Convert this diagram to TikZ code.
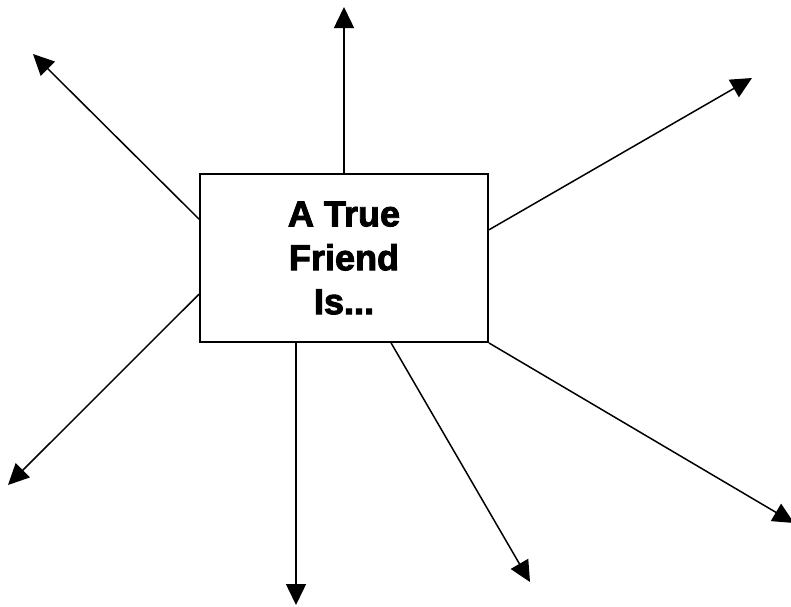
\documentclass[tikz,border=0pt]{standalone}
\usepackage{fontspec}
\newfontfamily\heavyfont{Liberation Sans}[FakeBold=2.6]
\usetikzlibrary{arrows.meta,positioning,shapes}

\begin{document}
\begin{tikzpicture}[x=0.02cm,y=-0.02cm,
  spoke/.style={-{Triangle[length=0.42cm,width=0.4cm]},line width=0.85pt},
  frame/.style={draw,line width=1.1pt,fill=white,minimum width=5.76cm,minimum height=3.36cm,inner sep=0pt,align=center,
    font=\heavyfont\bfseries\fontsize{20.5}{25}\selectfont}]
\useasboundingbox (0,0) rectangle (791,606);
\node[frame] (box) at (344,258) {A True\\ Friend\\ Is...};
\coordinate (t0) at (344,7);
\coordinate (t1) at (33,54);
\coordinate (t2) at (752,78);
\coordinate (t3) at (8,485);
\coordinate (t4) at (296,605);
\coordinate (t5) at (530,582);
\coordinate (t6) at (794,523);
\draw[spoke] (box.north) -- (t0);
\draw[spoke] (box.165.6) -- (t1);
\draw[spoke] (box.11) -- (t2);
\draw[spoke] (box.194) -- (t3);
\draw[spoke] (box.south -| t4) -- (t4);
\draw[spoke] (box.299.7) -- (t5);
\draw[spoke] (box.south east) -- (t6);
\end{tikzpicture}
\end{document}
